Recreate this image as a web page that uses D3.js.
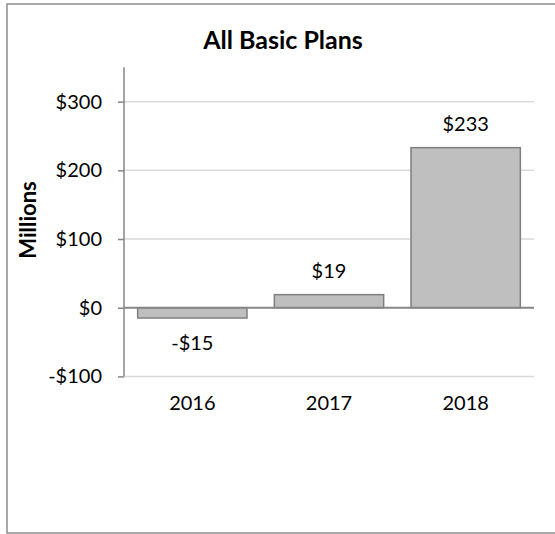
<!DOCTYPE html>
<html>
<head>
<meta charset="utf-8">
<script src="https://cdn.jsdelivr.net/npm/d3@7"></script>
<style>
  body { margin: 0; background: #fff; }
  svg text { font-family: Lato, "Open Sans", sans-serif; fill: #000; }
</style>
</head>
<body>
<svg width="555" height="534"></svg>
<script>
var years = ["2016", "2017", "2018"];
var values = [-15, 19, 233];
var yTicks = [-100, 0, 100, 200, 300];
var title = "All Basic Plans";
var yTitle = "Millions";

var svg = d3.select("svg");

// outer chart frame (right edge runs off the picture)
svg.append("rect")
   .attr("x", 7).attr("y", 4)
   .attr("width", 600).attr("height", 529)
   .attr("fill", "white")
   .attr("stroke", "#8c8c8c")
   .attr("stroke-width", 1.5);

var x = d3.scaleBand()
          .domain(years)
          .range([124, 534])
          .paddingInner(0.2)
          .paddingOuter(0.1);

var y = d3.scaleLinear()
          .domain([-100, 350])
          .range([376.4, 67.3]);

var money = function(v){ return (v < 0 ? "-$" : "$") + Math.abs(v); };

// gridlines
svg.append("g")
   .selectAll("line")
   .data(yTicks.filter(function(d){ return d != 0; }))
   .enter()
   .append("line")
   .attr("x1", 124).attr("x2", 534)
   .attr("y1", function(d){ return y(d); })
   .attr("y2", function(d){ return y(d); })
   .attr("stroke", "#d9d9d9")
   .attr("stroke-width", 1.5);

// y axis
var yAxis = svg.append("g")
   .attr("transform", "translate(124,0)")
   .call(d3.axisLeft(y).tickValues(yTicks).tickFormat(money).tickSize(6).tickPadding(16));
yAxis.select(".domain").attr("stroke", "#868686").attr("stroke-width", 1.5)
     .attr("d", "M0," + y(350) + "V" + y(-100));
yAxis.selectAll(".tick line").attr("stroke", "#868686").attr("stroke-width", 1.5);
yAxis.selectAll(".tick text")
     .attr("font-family", "Lato, 'Open Sans', sans-serif")
     .attr("font-size", "20px")
     .attr("fill", "#000");

// bars
svg.append("g")
   .selectAll("rect")
   .data(values)
   .enter()
   .append("rect")
   .attr("x", function(d, i){ return x(years[i]); })
   .attr("y", function(d){ return y(Math.max(0, d)); })
   .attr("width", x.bandwidth())
   .attr("height", function(d){ return Math.abs(y(d) - y(0)); })
   .attr("fill", "#bfbfbf")
   .attr("stroke", "#7f7f7f")
   .attr("stroke-width", 1.5);

// zero line
svg.append("line")
   .attr("x1", 124).attr("x2", 534)
   .attr("y1", y(0)).attr("y2", y(0))
   .attr("stroke", "#868686")
   .attr("stroke-width", 2);

// value labels
svg.append("g")
   .selectAll("text")
   .data(values)
   .enter()
   .append("text")
   .attr("x", function(d, i){ return x(years[i]) + x.bandwidth() / 2; })
   .attr("y", function(d){ return d < 0 ? y(d) + 32 : y(d) - 17; })
   .attr("text-anchor", "middle")
   .attr("font-size", "20px")
   .text(money);

// category labels
svg.append("g")
   .selectAll("text")
   .data(years)
   .enter()
   .append("text")
   .attr("x", function(d){ return x(d) + x.bandwidth() / 2; })
   .attr("y", 410)
   .attr("text-anchor", "middle")
   .attr("font-size", "20px")
   .text(function(d){ return d; });

// titles
svg.append("text")
   .attr("x", 283).attr("y", 49)
   .attr("text-anchor", "middle")
   .attr("font-size", "25px")
   .attr("font-weight", "bold")
   .text(title);

svg.append("text")
   .attr("transform", "translate(36,220) rotate(-90)")
   .attr("text-anchor", "middle")
   .attr("font-size", "22px")
   .attr("font-weight", "bold")
   .text(yTitle);
</script>
</body>
</html>
